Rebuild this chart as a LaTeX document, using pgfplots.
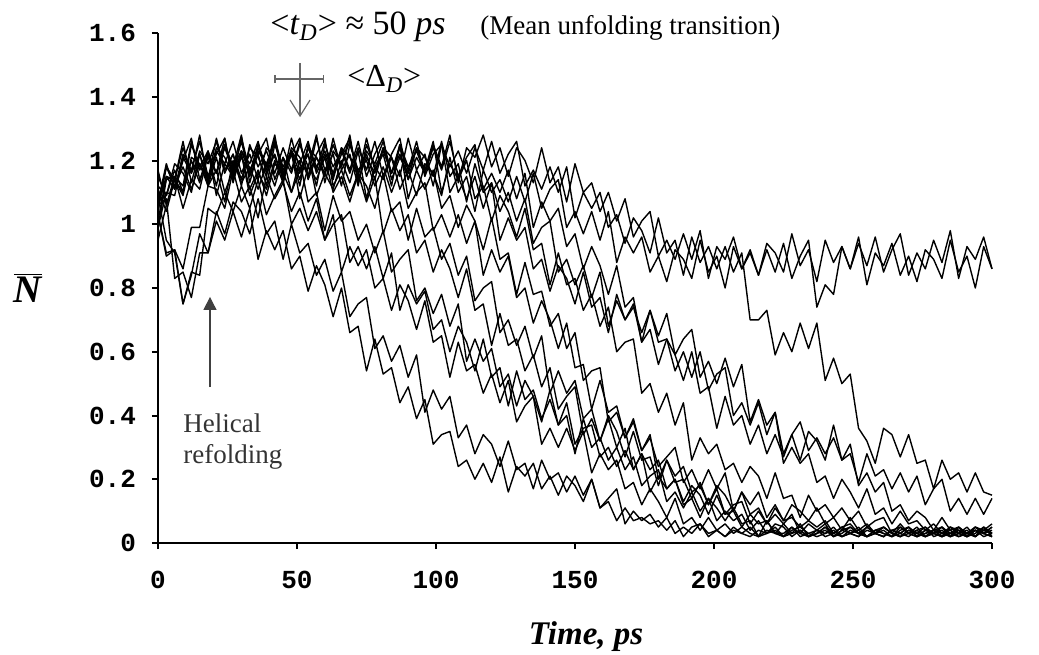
\documentclass[border=0pt]{standalone}
\usepackage{fontspec}
\setmainfont{Liberation Serif}
\newfontfamily\tickfont{Liberation Mono}
\usepackage{pgfplots}
\pgfplotsset{compat=1.18}
\usetikzlibrary{arrows.meta}
\tikzset{tr/.style={black, line width=0.7pt, line join=round, mark=none, solid}}
\begin{document}
\begin{tikzpicture}
\path[use as bounding box] (-79pt,-55.5pt) rectangle (440.5pt,271.5pt);
\begin{axis}[at={(0pt,0pt)}, anchor=south west, scale only axis, width=417pt, height=255pt,
 xmin=0,xmax=300,ymin=0,ymax=1.6,
 axis x line*=bottom, axis y line*=left, axis line style={line width=1pt,-},
 xtick={0,50,100,150,200,250,300}, ytick={0,0.2,0.4,0.6,0.8,1,1.2,1.4,1.6},
 tick align=outside, major tick length=3pt, tick style={line width=1pt,black},
 /pgf/number format/assume math mode=true,
 ticklabel style={font=\tickfont\bfseries\fontsize{13}{15}\selectfont},
 yticklabel style={/pgf/number format/fixed,/pgf/number format/precision=1, xshift=-4.5pt},
 xticklabel style={yshift=-7.5pt},
 clip=false]
% curve 1
\addplot[tr] coordinates {(0,1.09)(3,0.95)(6,0.91)(9,0.75)(12,0.84)(15,0.97)(18,0.91)(21,1.01)(24,0.95)(27,1.04)(30,0.96)(33,1.05)(36,0.89)(39,0.98)(42,0.92)(45,0.98)(48,0.86)(51,0.90)(54,0.79)(57,0.87)(60,0.81)(63,0.71)(66,0.80)(69,0.66)(72,0.68)(75,0.54)(78,0.64)(81,0.53)(84,0.55)(87,0.44)(90,0.49)(93,0.39)(96,0.45)(99,0.31)(102,0.34)(105,0.35)(108,0.24)(111,0.26)(114,0.20)(117,0.25)(120,0.19)(123,0.27)(126,0.16)(129,0.24)(132,0.21)(135,0.25)(138,0.17)(141,0.21)(144,0.15)(147,0.21)(150,0.18)(153,0.13)(156,0.20)(159,0.11)(162,0.13)(165,0.07)(168,0.11)(171,0.07)(174,0.08)(177,0.06)(180,0.07)(183,0.04)(186,0.07)(189,0.02)(192,0.05)(195,0.06)(198,0.02)(201,0.04)(204,0.02)(207,0.04)(210,0.03)(213,0.05)(216,0.02)(219,0.03)(222,0.04)(225,0.02)(228,0.05)(231,0.03)(234,0.02)(237,0.04)(240,0.03)(243,0.05)(246,0.02)(249,0.03)(252,0.04)(255,0.02)(258,0.03)(261,0.05)(264,0.03)(267,0.02)(270,0.04)(273,0.03)(276,0.02)(279,0.04)(282,0.05)(285,0.03)(288,0.02)(291,0.03)(294,0.04)(297,0.02)(300,0.03)};
% curve 2
\addplot[tr] coordinates {(0,1.06)(3,1.08)(6,0.83)(9,0.85)(12,0.77)(15,0.91)(18,0.91)(21,1.04)(24,0.97)(27,1.07)(30,1.04)(33,0.97)(36,1.08)(39,0.97)(42,1.01)(45,0.89)(48,1.00)(51,0.91)(54,0.94)(57,0.84)(60,0.89)(63,0.79)(66,0.85)(69,0.71)(72,0.75)(75,0.77)(78,0.61)(81,0.65)(84,0.57)(87,0.62)(90,0.52)(93,0.59)(96,0.41)(99,0.48)(102,0.42)(105,0.46)(108,0.33)(111,0.37)(114,0.28)(117,0.34)(120,0.31)(123,0.24)(126,0.32)(129,0.23)(132,0.25)(135,0.17)(138,0.26)(141,0.20)(144,0.22)(147,0.16)(150,0.21)(153,0.15)(156,0.20)(159,0.11)(162,0.14)(165,0.17)(168,0.06)(171,0.10)(174,0.07)(177,0.09)(180,0.05)(183,0.08)(186,0.03)(189,0.05)(192,0.03)(195,0.06)(198,0.03)(201,0.04)(204,0.02)(207,0.05)(210,0.03)(213,0.02)(216,0.04)(219,0.03)(222,0.05)(225,0.02)(228,0.03)(231,0.04)(234,0.02)(237,0.03)(240,0.05)(243,0.03)(246,0.02)(249,0.04)(252,0.03)(255,0.02)(258,0.04)(261,0.05)(264,0.03)(267,0.02)(270,0.03)(273,0.04)(276,0.02)(279,0.03)(282,0.05)(285,0.02)(288,0.04)(291,0.03)(294,0.02)(297,0.05)(300,0.03)};
% curve 3
\addplot[tr] coordinates {(0,1.03)(3,0.90)(6,0.92)(9,0.75)(12,0.85)(15,0.84)(18,1.05)(21,1.03)(24,1.10)(27,1.04)(30,1.12)(33,1.05)(36,1.14)(39,1.03)(42,1.09)(45,1.14)(48,1.00)(51,1.05)(54,0.98)(57,1.04)(60,0.95)(63,1.03)(66,0.85)(69,0.93)(72,0.87)(75,0.92)(78,0.80)(81,0.83)(84,0.73)(87,0.81)(90,0.76)(93,0.67)(96,0.76)(99,0.63)(102,0.65)(105,0.52)(108,0.63)(111,0.54)(114,0.56)(117,0.47)(120,0.53)(123,0.44)(126,0.51)(129,0.38)(132,0.43)(135,0.46)(138,0.31)(141,0.36)(144,0.30)(147,0.36)(150,0.29)(153,0.35)(156,0.22)(159,0.28)(162,0.23)(165,0.26)(168,0.17)(171,0.19)(174,0.12)(177,0.17)(180,0.13)(183,0.08)(186,0.14)(189,0.06)(192,0.08)(195,0.04)(198,0.08)(201,0.04)(204,0.06)(207,0.03)(210,0.05)(213,0.03)(216,0.02)(219,0.04)(222,0.03)(225,0.02)(228,0.04)(231,0.05)(234,0.03)(237,0.02)(240,0.03)(243,0.04)(246,0.02)(249,0.03)(252,0.05)(255,0.02)(258,0.04)(261,0.03)(264,0.02)(267,0.05)(270,0.03)(273,0.02)(276,0.04)(279,0.03)(282,0.05)(285,0.02)(288,0.03)(291,0.04)(294,0.02)(297,0.05)(300,0.03)};
% curve 4
\addplot[tr] coordinates {(0,1.17)(3,1.06)(6,1.14)(9,1.10)(12,1.20)(15,1.13)(18,1.23)(21,1.09)(24,1.19)(27,1.15)(30,1.22)(33,1.11)(36,1.17)(39,1.09)(42,1.19)(45,1.16)(48,1.10)(51,1.20)(54,1.07)(57,1.10)(60,0.98)(63,1.09)(66,1.01)(69,1.04)(72,0.95)(75,1.00)(78,0.91)(81,0.98)(84,0.85)(87,0.89)(90,0.92)(93,0.76)(96,0.80)(99,0.72)(102,0.78)(105,0.68)(108,0.75)(111,0.57)(114,0.64)(117,0.57)(120,0.61)(123,0.49)(126,0.53)(129,0.43)(132,0.51)(135,0.46)(138,0.38)(141,0.48)(144,0.37)(147,0.40)(150,0.28)(153,0.39)(156,0.30)(159,0.33)(162,0.26)(165,0.30)(168,0.23)(171,0.27)(174,0.18)(177,0.21)(180,0.23)(183,0.13)(186,0.16)(189,0.11)(192,0.16)(195,0.10)(198,0.14)(201,0.07)(204,0.10)(207,0.07)(210,0.09)(213,0.04)(216,0.07)(219,0.03)(222,0.06)(225,0.05)(228,0.02)(231,0.04)(234,0.02)(237,0.03)(240,0.05)(243,0.02)(246,0.04)(249,0.03)(252,0.02)(255,0.05)(258,0.03)(261,0.02)(264,0.04)(267,0.03)(270,0.05)(273,0.02)(276,0.03)(279,0.04)(282,0.02)(285,0.05)(288,0.03)(291,0.02)(294,0.04)(297,0.03)(300,0.05)};
% curve 5
\addplot[tr] coordinates {(0,1.11)(3,1.04)(6,1.14)(9,1.09)(12,1.21)(15,1.19)(18,1.14)(21,1.27)(24,1.17)(27,1.22)(30,1.12)(33,1.25)(36,1.18)(39,1.23)(42,1.16)(45,1.24)(48,1.17)(51,1.26)(54,1.15)(57,1.22)(60,1.27)(63,1.12)(66,1.17)(69,1.09)(72,1.16)(75,1.07)(78,1.15)(81,0.97)(84,1.05)(87,0.98)(90,1.03)(93,0.91)(96,0.95)(99,0.85)(102,0.92)(105,0.86)(108,0.77)(111,0.86)(114,0.73)(117,0.75)(120,0.62)(123,0.72)(126,0.62)(129,0.64)(132,0.54)(135,0.59)(138,0.49)(141,0.55)(144,0.42)(147,0.46)(150,0.49)(153,0.34)(156,0.39)(159,0.32)(162,0.39)(165,0.30)(168,0.36)(171,0.23)(174,0.28)(177,0.23)(180,0.26)(183,0.17)(186,0.20)(189,0.13)(192,0.18)(195,0.15)(198,0.09)(201,0.15)(204,0.09)(207,0.10)(210,0.05)(213,0.09)(216,0.06)(219,0.07)(222,0.03)(225,0.06)(228,0.03)(231,0.06)(234,0.02)(237,0.03)(240,0.04)(243,0.02)(246,0.03)(249,0.05)(252,0.03)(255,0.02)(258,0.04)(261,0.03)(264,0.02)(267,0.04)(270,0.05)(273,0.03)(276,0.02)(279,0.03)(282,0.04)(285,0.02)(288,0.03)(291,0.05)(294,0.02)(297,0.04)(300,0.03)};
% curve 6
\addplot[tr] coordinates {(0,1.04)(3,1.18)(6,1.12)(9,1.18)(12,1.11)(15,1.19)(18,1.12)(21,1.21)(24,1.10)(27,1.17)(30,1.22)(33,1.09)(36,1.16)(39,1.11)(42,1.20)(45,1.13)(48,1.23)(51,1.08)(54,1.18)(57,1.14)(60,1.21)(63,1.10)(66,1.15)(69,1.07)(72,1.16)(75,1.12)(78,1.05)(81,1.16)(84,1.04)(87,1.07)(90,0.95)(93,1.05)(96,0.96)(99,0.99)(102,0.89)(105,0.94)(108,0.84)(111,0.90)(114,0.76)(117,0.80)(120,0.82)(123,0.66)(126,0.70)(129,0.62)(132,0.68)(135,0.58)(138,0.65)(141,0.47)(144,0.54)(147,0.47)(150,0.51)(153,0.39)(156,0.42)(159,0.32)(162,0.40)(165,0.35)(168,0.27)(171,0.35)(174,0.26)(177,0.27)(180,0.18)(183,0.26)(186,0.19)(189,0.20)(192,0.14)(195,0.19)(198,0.12)(201,0.17)(204,0.09)(207,0.12)(210,0.13)(213,0.06)(216,0.10)(219,0.06)(222,0.09)(225,0.06)(228,0.09)(231,0.03)(234,0.06)(237,0.04)(240,0.06)(243,0.02)(246,0.04)(249,0.05)(252,0.03)(255,0.02)(258,0.03)(261,0.04)(264,0.02)(267,0.03)(270,0.05)(273,0.02)(276,0.04)(279,0.03)(282,0.02)(285,0.05)(288,0.03)(291,0.02)(294,0.04)(297,0.03)(300,0.05)};
% curve 7
\addplot[tr] coordinates {(0,0.95)(3,1.06)(6,1.15)(9,1.05)(12,1.14)(15,1.11)(18,1.22)(21,1.16)(24,1.27)(27,1.13)(30,1.23)(33,1.19)(36,1.26)(39,1.16)(42,1.22)(45,1.14)(48,1.24)(51,1.21)(54,1.15)(57,1.27)(60,1.17)(63,1.22)(66,1.12)(69,1.25)(72,1.17)(75,1.20)(78,1.12)(81,1.18)(84,1.10)(87,1.17)(90,1.05)(93,1.10)(96,1.13)(99,0.98)(102,1.03)(105,0.96)(108,1.03)(111,0.94)(114,1.01)(117,0.84)(120,0.92)(123,0.85)(126,0.90)(129,0.77)(132,0.80)(135,0.69)(138,0.76)(141,0.70)(144,0.61)(147,0.69)(150,0.55)(153,0.56)(156,0.42)(159,0.51)(162,0.41)(165,0.43)(168,0.33)(171,0.38)(174,0.29)(177,0.33)(180,0.24)(183,0.27)(186,0.30)(189,0.19)(192,0.23)(195,0.17)(198,0.23)(201,0.17)(204,0.22)(207,0.10)(210,0.16)(213,0.12)(216,0.16)(219,0.08)(222,0.12)(225,0.07)(228,0.12)(231,0.10)(234,0.07)(237,0.11)(240,0.06)(243,0.08)(246,0.04)(249,0.08)(252,0.04)(255,0.06)(258,0.03)(261,0.05)(264,0.03)(267,0.02)(270,0.04)(273,0.03)(276,0.05)(279,0.02)(282,0.03)(285,0.04)(288,0.02)(291,0.03)(294,0.05)(297,0.03)(300,0.02)};
% curve 8
\addplot[tr] coordinates {(0,1.01)(3,1.15)(6,1.14)(9,1.24)(12,1.16)(15,1.22)(18,1.14)(21,1.24)(24,1.21)(27,1.15)(30,1.27)(33,1.17)(36,1.22)(39,1.12)(42,1.25)(45,1.18)(48,1.23)(51,1.16)(54,1.24)(57,1.17)(60,1.26)(63,1.15)(66,1.22)(69,1.27)(72,1.14)(75,1.21)(78,1.16)(81,1.24)(84,1.16)(87,1.25)(90,1.08)(93,1.17)(96,1.11)(99,1.17)(102,1.05)(105,1.09)(108,0.99)(111,1.06)(114,1.01)(117,0.92)(120,1.02)(123,0.89)(126,0.91)(129,0.78)(132,0.88)(135,0.78)(138,0.79)(141,0.68)(144,0.72)(147,0.61)(150,0.66)(153,0.51)(156,0.54)(159,0.55)(162,0.38)(165,0.41)(168,0.33)(171,0.39)(174,0.29)(177,0.34)(180,0.20)(183,0.26)(186,0.21)(189,0.24)(192,0.16)(195,0.18)(198,0.12)(201,0.18)(204,0.15)(207,0.10)(210,0.16)(213,0.09)(216,0.11)(219,0.06)(222,0.11)(225,0.07)(228,0.08)(231,0.05)(234,0.07)(237,0.05)(240,0.07)(243,0.03)(246,0.05)(249,0.06)(252,0.03)(255,0.05)(258,0.03)(261,0.02)(264,0.04)(267,0.03)(270,0.02)(273,0.04)(276,0.05)(279,0.03)(282,0.02)(285,0.03)(288,0.04)(291,0.02)(294,0.03)(297,0.05)(300,0.02)};
% curve 9
\addplot[tr] coordinates {(0,1.06)(3,1.18)(6,1.14)(9,1.26)(12,1.13)(15,1.23)(18,1.19)(21,1.26)(24,1.16)(27,1.22)(30,1.14)(33,1.24)(36,1.21)(39,1.15)(42,1.27)(45,1.17)(48,1.22)(51,1.12)(54,1.25)(57,1.18)(60,1.23)(63,1.16)(66,1.24)(69,1.17)(72,1.26)(75,1.15)(78,1.22)(81,1.27)(84,1.14)(87,1.21)(90,1.16)(93,1.24)(96,1.17)(99,1.26)(102,1.10)(105,1.19)(108,1.14)(111,1.20)(114,1.08)(117,1.12)(120,1.01)(123,1.09)(126,1.04)(129,0.96)(132,1.05)(135,0.92)(138,0.94)(141,0.81)(144,0.91)(147,0.81)(150,0.83)(153,0.73)(156,0.78)(159,0.68)(162,0.74)(165,0.60)(168,0.63)(171,0.64)(174,0.47)(177,0.50)(180,0.41)(183,0.47)(186,0.37)(189,0.44)(192,0.26)(195,0.33)(198,0.28)(201,0.31)(204,0.23)(207,0.25)(210,0.19)(213,0.24)(216,0.21)(219,0.14)(222,0.22)(225,0.14)(228,0.15)(231,0.08)(234,0.15)(237,0.10)(240,0.12)(243,0.08)(246,0.11)(249,0.07)(252,0.10)(255,0.05)(258,0.07)(261,0.08)(264,0.03)(267,0.06)(270,0.03)(273,0.05)(276,0.02)(279,0.04)(282,0.03)(285,0.02)(288,0.05)(291,0.03)(294,0.02)(297,0.04)(300,0.03)};
% curve 10
\addplot[tr] coordinates {(0,0.99)(3,1.14)(6,1.15)(9,1.12)(12,1.26)(15,1.17)(18,1.22)(21,1.12)(24,1.25)(27,1.18)(30,1.23)(33,1.16)(36,1.24)(39,1.17)(42,1.26)(45,1.15)(48,1.22)(51,1.27)(54,1.14)(57,1.21)(60,1.16)(63,1.25)(66,1.18)(69,1.28)(72,1.13)(75,1.23)(78,1.19)(81,1.26)(84,1.16)(87,1.22)(90,1.14)(93,1.24)(96,1.21)(99,1.15)(102,1.26)(105,1.15)(108,1.19)(111,1.07)(114,1.19)(117,1.10)(120,1.13)(123,1.04)(126,1.10)(129,1.01)(132,1.08)(135,0.94)(138,0.99)(141,1.01)(144,0.85)(147,0.89)(150,0.81)(153,0.87)(156,0.77)(159,0.85)(162,0.68)(165,0.76)(168,0.70)(171,0.75)(174,0.63)(177,0.67)(180,0.56)(183,0.64)(186,0.59)(189,0.51)(192,0.60)(195,0.47)(198,0.49)(201,0.36)(204,0.46)(207,0.37)(210,0.40)(213,0.31)(216,0.37)(219,0.28)(222,0.34)(225,0.27)(228,0.34)(231,0.38)(234,0.29)(237,0.33)(240,0.28)(243,0.33)(246,0.26)(249,0.31)(252,0.18)(255,0.22)(258,0.16)(261,0.19)(264,0.10)(267,0.12)(270,0.07)(273,0.10)(276,0.08)(279,0.04)(282,0.08)(285,0.04)(288,0.05)(291,0.03)(294,0.05)(297,0.04)(300,0.06)};
% curve 11
\addplot[tr] coordinates {(0,1.06)(3,1.15)(6,1.11)(9,1.22)(12,1.17)(15,1.26)(18,1.15)(21,1.22)(24,1.27)(27,1.14)(30,1.21)(33,1.16)(36,1.25)(39,1.18)(42,1.28)(45,1.13)(48,1.23)(51,1.19)(54,1.26)(57,1.16)(60,1.22)(63,1.14)(66,1.24)(69,1.21)(72,1.15)(75,1.27)(78,1.17)(81,1.22)(84,1.12)(87,1.25)(90,1.18)(93,1.23)(96,1.16)(99,1.24)(102,1.17)(105,1.26)(108,1.15)(111,1.21)(114,1.25)(117,1.11)(120,1.16)(123,1.10)(126,1.17)(129,1.08)(132,1.16)(135,0.99)(138,1.07)(141,1.01)(144,1.05)(147,0.93)(150,0.97)(153,0.86)(156,0.93)(159,0.87)(162,0.78)(165,0.87)(168,0.74)(171,0.77)(174,0.63)(177,0.73)(180,0.63)(183,0.64)(186,0.54)(189,0.60)(192,0.52)(195,0.60)(198,0.48)(201,0.53)(204,0.55)(207,0.40)(210,0.44)(213,0.37)(216,0.44)(219,0.34)(222,0.41)(225,0.25)(228,0.30)(231,0.25)(234,0.28)(237,0.19)(240,0.21)(243,0.14)(246,0.20)(249,0.16)(252,0.11)(255,0.17)(258,0.09)(261,0.11)(264,0.06)(267,0.10)(270,0.06)(273,0.07)(276,0.04)(279,0.06)(282,0.03)(285,0.05)(288,0.04)(291,0.02)(294,0.05)(297,0.03)(300,0.04)};
% curve 12
\addplot[tr] coordinates {(0,1.07)(3,1.19)(6,1.11)(9,1.20)(12,1.27)(15,1.14)(18,1.21)(21,1.16)(24,1.25)(27,1.18)(30,1.28)(33,1.13)(36,1.23)(39,1.19)(42,1.26)(45,1.16)(48,1.22)(51,1.14)(54,1.24)(57,1.21)(60,1.15)(63,1.27)(66,1.17)(69,1.22)(72,1.12)(75,1.25)(78,1.18)(81,1.23)(84,1.16)(87,1.24)(90,1.17)(93,1.26)(96,1.15)(99,1.22)(102,1.25)(105,1.10)(108,1.15)(111,1.08)(114,1.15)(117,1.05)(120,1.13)(123,0.95)(126,1.02)(129,0.95)(132,0.99)(135,0.86)(138,0.89)(141,0.79)(144,0.87)(147,0.83)(150,0.75)(153,0.85)(156,0.74)(159,0.77)(162,0.66)(165,0.78)(168,0.70)(171,0.74)(174,0.66)(177,0.73)(180,0.65)(183,0.72)(186,0.59)(189,0.64)(192,0.67)(195,0.52)(198,0.57)(201,0.50)(204,0.58)(207,0.49)(210,0.56)(213,0.38)(216,0.45)(219,0.37)(222,0.41)(225,0.28)(228,0.34)(231,0.26)(234,0.35)(237,0.32)(240,0.26)(243,0.37)(246,0.26)(249,0.28)(252,0.19)(255,0.28)(258,0.21)(261,0.23)(264,0.17)(267,0.22)(270,0.16)(273,0.21)(276,0.12)(279,0.17)(282,0.20)(285,0.10)(288,0.14)(291,0.09)(294,0.14)(297,0.09)(300,0.14)};
% curve 13
\addplot[tr] coordinates {(0,1.15)(3,1.09)(6,1.17)(9,1.10)(12,1.25)(15,1.18)(18,1.23)(21,1.16)(24,1.24)(27,1.17)(30,1.26)(33,1.15)(36,1.22)(39,1.27)(42,1.14)(45,1.21)(48,1.16)(51,1.25)(54,1.18)(57,1.28)(60,1.13)(63,1.23)(66,1.19)(69,1.26)(72,1.16)(75,1.22)(78,1.14)(81,1.24)(84,1.21)(87,1.15)(90,1.27)(93,1.17)(96,1.22)(99,1.12)(102,1.25)(105,1.18)(108,1.23)(111,1.16)(114,1.24)(117,1.17)(120,1.26)(123,1.16)(126,1.22)(129,1.26)(132,1.12)(135,1.17)(138,1.11)(141,1.18)(144,1.10)(147,1.18)(150,1.02)(153,1.10)(156,1.05)(159,1.10)(162,0.99)(165,1.03)(168,0.94)(171,1.02)(174,0.98)(177,0.91)(180,1.02)(183,0.91)(186,0.95)(189,0.84)(192,0.96)(195,0.88)(198,0.93)(201,0.86)(204,0.93)(207,0.85)(210,0.91)(213,0.70)(216,0.70)(219,0.73)(222,0.59)(225,0.66)(228,0.60)(231,0.69)(234,0.61)(237,0.69)(240,0.51)(243,0.58)(246,0.50)(249,0.53)(252,0.36)(255,0.32)(258,0.25)(261,0.36)(264,0.34)(267,0.27)(270,0.34)(273,0.25)(276,0.26)(279,0.17)(282,0.26)(285,0.20)(288,0.22)(291,0.16)(294,0.22)(297,0.16)(300,0.15)};
% curve 14
\addplot[tr] coordinates {(0,0.99)(3,1.10)(6,1.09)(9,1.21)(12,1.16)(15,1.28)(18,1.13)(21,1.23)(24,1.19)(27,1.26)(30,1.16)(33,1.22)(36,1.14)(39,1.24)(42,1.21)(45,1.15)(48,1.27)(51,1.17)(54,1.22)(57,1.12)(60,1.25)(63,1.18)(66,1.23)(69,1.16)(72,1.24)(75,1.17)(78,1.26)(81,1.15)(84,1.22)(87,1.27)(90,1.14)(93,1.21)(96,1.16)(99,1.25)(102,1.18)(105,1.28)(108,1.13)(111,1.24)(114,1.21)(117,1.28)(120,1.18)(123,1.24)(126,1.15)(129,1.24)(132,1.20)(135,1.13)(138,1.24)(141,1.13)(144,1.18)(147,1.07)(150,1.19)(153,1.10)(156,1.13)(159,1.04)(162,1.10)(165,1.01)(168,1.08)(171,0.96)(174,1.01)(177,1.04)(180,0.90)(183,0.95)(186,0.89)(189,0.97)(192,0.89)(195,0.98)(198,0.83)(201,0.93)(204,0.89)(207,0.96)(210,0.86)(213,0.92)(216,0.84)(219,0.94)(222,0.91)(225,0.85)(228,0.97)(231,0.87)(234,0.92)(237,0.82)(240,0.95)(243,0.88)(246,0.93)(249,0.86)(252,0.94)(255,0.87)(258,0.96)(261,0.85)(264,0.92)(267,0.97)(270,0.84)(273,0.91)(276,0.86)(279,0.95)(282,0.88)(285,0.98)(288,0.83)(291,0.93)(294,0.89)(297,0.96)(300,0.86)};
% curve 15
\addplot[tr] coordinates {(0,1.12)(3,1.09)(6,1.19)(9,1.16)(12,1.10)(15,1.22)(18,1.12)(21,1.17)(24,1.07)(27,1.20)(30,1.13)(33,1.18)(36,1.11)(39,1.19)(42,1.12)(45,1.21)(48,1.10)(51,1.17)(54,1.22)(57,1.09)(60,1.16)(63,1.11)(66,1.20)(69,1.13)(72,1.23)(75,1.08)(78,1.18)(81,1.14)(84,1.21)(87,1.11)(90,1.17)(93,1.09)(96,1.19)(99,1.16)(102,1.09)(105,1.21)(108,1.10)(111,1.15)(114,1.04)(117,1.17)(120,1.10)(123,1.14)(126,1.07)(129,1.15)(132,1.07)(135,1.16)(138,1.05)(141,1.11)(144,1.14)(147,0.99)(150,1.04)(153,0.97)(156,1.04)(159,0.95)(162,1.04)(165,0.88)(168,0.96)(171,0.91)(174,0.96)(177,0.85)(180,0.90)(183,0.82)(186,0.92)(189,0.89)(192,0.83)(195,0.95)(198,0.85)(201,0.90)(204,0.80)(207,0.93)(210,0.86)(213,0.91)(216,0.84)(219,0.92)(222,0.85)(225,0.94)(228,0.83)(231,0.90)(234,0.95)(237,0.74)(240,0.81)(243,0.78)(246,0.93)(249,0.86)(252,0.96)(255,0.81)(258,0.91)(261,0.87)(264,0.94)(267,0.84)(270,0.90)(273,0.82)(276,0.92)(279,0.89)(282,0.83)(285,0.95)(288,0.85)(291,0.90)(294,0.80)(297,0.93)(300,0.86)};
% curve 16
\addplot[tr] coordinates {(0,1.03)(3,0.91)(6,0.92)(9,0.86)(12,0.99)(15,0.99)(18,1.12)(21,1.11)(24,1.05)(27,1.17)(30,1.07)(33,1.12)(36,1.02)(39,1.15)(42,1.08)(45,1.13)(48,1.04)(51,1.10)(54,1.01)(57,1.08)(60,0.95)(63,1.00)(66,1.03)(69,0.88)(72,0.93)(75,0.86)(78,0.93)(81,0.83)(84,0.91)(87,0.73)(90,0.81)(93,0.75)(96,0.79)(99,0.67)(102,0.70)(105,0.60)(108,0.68)(111,0.63)(114,0.54)(117,0.64)(120,0.52)(123,0.55)(126,0.43)(129,0.54)(132,0.45)(135,0.48)(138,0.39)(141,0.45)(144,0.37)(147,0.44)(150,0.31)(153,0.36)(156,0.37)(159,0.27)(162,0.30)(165,0.24)(168,0.29)(171,0.23)(174,0.28)(177,0.16)(180,0.21)(183,0.17)(186,0.20)(189,0.12)(192,0.14)(195,0.08)(198,0.14)(201,0.11)(204,0.07)(207,0.11)(210,0.06)(213,0.07)(216,0.02)(219,0.07)(222,0.03)(225,0.03)(228,0.05)(231,0.02)(234,0.03)(237,0.04)(240,0.02)(243,0.03)(246,0.05)(249,0.03)(252,0.02)(255,0.04)(258,0.03)(261,0.02)(264,0.04)(267,0.05)(270,0.03)(273,0.02)(276,0.03)(279,0.04)(282,0.02)(285,0.03)(288,0.05)(291,0.02)(294,0.04)(297,0.03)(300,0.02)};
% annotations
\node[anchor=base west, font=\fontsize{17}{20}\selectfont, inner sep=0pt] at (axis cs:40.3,1.594) {<\textit{t}\textsubscript{\textit{D}}> ≈ 50 \textit{ps}};
\node[anchor=base west, font=\fontsize{13.5}{16}\selectfont, inner sep=0pt] at (axis cs:115.8,1.594) {(Mean unfolding transition)};
\node[anchor=base west, font=\fontsize{16}{18}\selectfont, inner sep=0pt] at (axis cs:68,1.431) {<Δ\textsubscript{\textit{D}}>};
\draw[black!60, line width=0.6pt] (axis cs:42.1,1.456) -- (axis cs:59.4,1.456);
\draw[black!60, line width=0.6pt] (axis cs:42.1,1.443) -- (axis cs:42.1,1.469);
\draw[black!60, line width=0.6pt] (axis cs:59.4,1.443) -- (axis cs:59.4,1.469);
\draw[black!60, line width=0.6pt, -{Straight Barb[length=8pt,width=10pt]}] (axis cs:51.1,1.506) -- (axis cs:51.1,1.336);
\draw[black!75, line width=0.6pt, -{Triangle[length=6.5pt,width=6.5pt]}] (axis cs:18.7,0.489) -- (axis cs:18.7,0.772);
\node[anchor=base west, font=\fontsize{13.5}{16}\selectfont, inner sep=0pt, text=black!80] at (axis cs:9,0.348) {Helical};
\node[anchor=base west, font=\fontsize{13.5}{16}\selectfont, inner sep=0pt, text=black!80] at (axis cs:9,0.248) {refolding};
\node[anchor=base, font=\bfseries\itshape\fontsize{19.5}{22}\selectfont, inner sep=0pt, xshift=-65pt] at (axis cs:0,0.753) {$\overline{\mbox{N}}$};
\node[anchor=base, font=\bfseries\itshape\fontsize{16.5}{18}\selectfont, inner sep=0pt, yshift=-50.5pt] at (axis cs:154,0) {Time, ps};
\end{axis}
\end{tikzpicture}
\end{document}
